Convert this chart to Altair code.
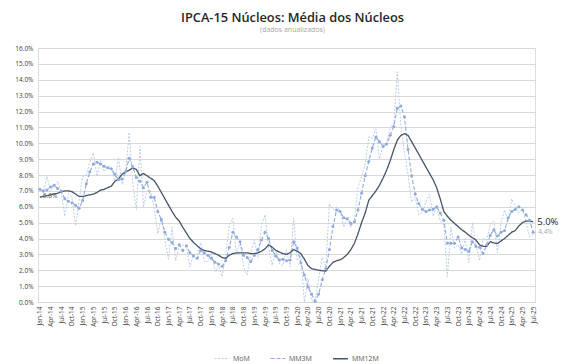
import altair as alt
import pandas as pd

MONTHS = ["Jan", "Feb", "Mar", "Apr", "May", "Jun", "Jul", "Aug", "Sep", "Oct", "Nov", "Dec"]
periods = [f"{m}-{y:02d}" for y in range(14, 26) for m in MONTHS][:139]

mom = [
    7.1, 6.9, 7.9, 7.0, 7.3, 7.6, 6.9, 5.4, 6.8, 6.6, 4.8, 6.4,          # 2014
    7.9, 8.0, 8.8, 9.4, 7.9, 8.9, 8.2, 8.6, 8.4, 7.6, 9.1, 7.4,          # 2015
    8.1, 10.7, 7.5, 5.8, 9.8, 6.0, 7.0, 7.0, 5.9, 4.3, 5.3, 3.9,         # 2016
    2.7, 4.7, 2.6, 3.5, 3.6, 3.5, 2.2, 3.0, 3.0, 3.75, 2.55, 2.55,       # 2017
    3.1, 1.9, 2.3, 1.6, 3.0, 4.8, 5.3, 3.0, 3.8, 2.2, 1.7, 3.1,          # 2018
    3.9, 2.8, 4.8, 5.5, 3.4, 2.3, 3.3, 2.4, 2.3, 3.3, 2.2, 5.3,          # 2019
    2.6, 2.9, 0.0, 1.5, 0.1, 0.0, 1.5, 2.8, 2.2, 6.2, 5.8, 6.0,          # 2020
    5.8, 4.7, 5.3, 4.7, 5.2, 7.2, 7.9, 8.7, 10.4, 10.3, 10.9, 9.0,       # 2021
    9.9, 10.0, 11.0, 11.2, 14.5, 11.0, 9.4, 8.0, 6.3, 6.6, 5.5, 5.6,     # 2022
    6.3, 6.8, 5.4, 6.0, 5.1, 4.9, 1.6, 4.7, 3.4, 3.6, 3.0, 4.0,          # 2023
    2.5, 5.0, 3.6, 2.6, 4.0, 3.9, 4.9, 5.1, 3.1, 5.0, 5.8, 5.1,          # 2024
    6.5, 6.0, 5.6, 5.9, 5.0, 4.1, 4.3,                                   # 2025
]

mm3m = [
    7.1, 7.0, 7.05, 7.25, 7.35, 7.15, 7.0, 6.5, 6.35, 6.25, 6.1, 5.9,
    6.4, 7.45, 8.2, 8.7, 8.8, 8.7, 8.55, 8.45, 8.4, 8.05, 7.7, 7.75,
    8.2, 9.05, 8.5, 7.85, 7.6, 7.2, 7.55, 6.6, 6.6, 5.7, 5.2, 4.4,
    3.95, 3.75, 3.35, 3.6, 3.25, 3.55, 3.1, 2.9, 2.75, 3.25, 3.1, 2.95,
    2.75, 2.5, 2.4, 2.25, 2.6, 3.45, 4.4, 4.1, 3.8, 2.95, 2.8, 2.55,
    2.95, 3.3, 3.9, 4.4, 4.0, 3.25, 2.9, 2.65, 2.7, 2.6, 2.65, 3.8,
    3.4, 2.45, 1.7, 0.95, 0.5, 0.05, 0.5, 1.4, 2.1, 3.3, 4.75, 5.8,
    5.7, 5.3, 5.25, 4.95, 5.05, 5.8, 6.85, 7.95, 8.85, 9.7, 10.4, 10.1,
    9.8, 9.95, 10.5, 11.05, 12.2, 12.35, 11.65, 9.6, 7.95, 6.8, 6.2, 5.85,
    5.7, 5.8, 5.85, 6.0, 5.6, 5.15, 3.7, 3.7, 3.7, 4.1, 3.4, 3.3,
    3.2, 3.8, 3.5, 3.45, 3.05, 3.6, 4.2, 4.55, 4.15, 4.4, 4.5, 5.3,
    5.7, 5.85, 6.0, 5.8, 5.5, 5.15, 4.4,
]

mm12m = [
    6.6, 6.65, 6.7, 6.75, 6.8, 6.85, 6.95, 7.0, 7.0, 6.95, 6.8, 6.65,
    6.65, 6.7, 6.75, 6.8, 6.9, 7.05, 7.1, 7.2, 7.3, 7.6, 7.75, 8.05,
    8.2, 8.3, 8.45, 8.35, 7.95, 8.1, 7.95, 7.8, 7.65, 7.3, 6.9, 6.5,
    6.1, 5.7, 5.35, 5.1, 4.7, 4.35, 4.0, 3.75, 3.55, 3.35, 3.25, 3.2,
    3.15, 3.05, 2.95, 2.8, 2.75, 2.95, 3.05, 3.1, 3.1, 3.1, 3.1, 3.05,
    3.05, 3.1, 3.2, 3.35, 3.6, 3.45, 3.25, 3.15, 3.05, 3.0, 3.1, 3.3,
    3.2, 3.05, 2.7, 2.3, 2.1, 2.05, 2.0, 1.97, 1.95, 2.25, 2.5, 2.6,
    2.65, 2.8, 3.0, 3.3, 3.7, 4.3, 5.0, 5.6, 6.4, 6.7, 7.0, 7.35,
    7.8, 8.3, 8.9, 9.6, 10.2, 10.5, 10.6, 10.5, 10.1, 9.7, 9.3, 8.9,
    8.5, 8.1, 7.7, 7.2, 6.5, 5.7, 5.4, 5.15, 4.95, 4.75, 4.55, 4.4,
    4.2, 4.05, 3.9, 3.6, 3.5, 3.5, 3.8, 3.72, 3.68, 3.85, 4.0, 4.2,
    4.4, 4.5, 4.8, 5.0, 5.1, 5.1, 5.05,
]

series_names = ["MoM", "MM3M", "MM12M"]
series_colors = ["#b4c7e7", "#8faadc", "#44546a"]
series_dash = [[2, 1.5], [4, 2], [1, 0]]
series_width = [0.9, 1.3, 1.1]

annotation_text = ["6.8%", "5.0%", "4.4%"]

y_ticks = [i / 100 for i in range(0, 17)]
x_ticks = periods[::3]

rows = []
for name, vals in zip(series_names, [mom, mm3m, mm12m]):
    for i, (p, v) in enumerate(zip(periods, vals)):
        rows.append({"period": p, "order": i, "serie": name, "value": v / 100})
df = pd.DataFrame(rows)

x_enc = alt.X(
    "period:N",
    sort=periods,
    scale=alt.Scale(type="point", padding=0.5),
    axis=alt.Axis(
        values=x_ticks, labelAngle=270, title=None, ticks=False, grid=False,
        domain=True, domainColor="#d9d9d9", domainWidth=1,
        labelFontSize=6.5, labelColor="#404040", labelPadding=4,
    ),
)
y_enc = alt.Y(
    "value:Q",
    scale=alt.Scale(domain=[0, 0.16], nice=False, zero=True),
    axis=alt.Axis(
        values=y_ticks, format=".1%", title=None, grid=True, gridColor="#d9d9d9",
        gridWidth=1, domain=False, ticks=False, labelFontSize=6.5,
        labelColor="#404040", labelPadding=5,
    ),
)

legend = alt.Legend(
    title=None, orient="none", legendX=176, legendY=302, direction="horizontal",
    symbolType="stroke", symbolSize=220, symbolStrokeWidth=1.2,
    labelFontSize=7, labelColor="#595959", columnPadding=18, labelOffset=3,
)

base = alt.Chart(df)

lines = base.mark_line().encode(
    x=x_enc,
    y=y_enc,
    color=alt.Color("serie:N", scale=alt.Scale(domain=series_names, range=series_colors), legend=legend),
    strokeDash=alt.StrokeDash("serie:N", scale=alt.Scale(domain=series_names, range=series_dash), legend=legend),
    strokeWidth=alt.StrokeWidth("serie:N", scale=alt.Scale(domain=series_names, range=series_width), legend=None),
    order="order:Q",
)

points = base.transform_filter(alt.datum.serie == "MM3M").mark_point(
    filled=True, size=9, color="#8faadc", opacity=1, shape="circle"
).encode(x=x_enc, y=y_enc)

ann = pd.DataFrame({
    "period": [periods[0], periods[-1], periods[-1]],
    "value": [mm12m[0] / 100, mm12m[-1] / 100, mm3m[-1] / 100],
    "text": annotation_text,
    "kind": ["start", "end12", "end3"],
})
abase = alt.Chart(ann)
t_start = abase.transform_filter(alt.datum.kind == "start").mark_text(
    align="left", baseline="middle", dx=3, dy=-1, fontSize=6.5, color="#595959"
).encode(x=x_enc, y=y_enc, text="text:N")
t_end12 = abase.transform_filter(alt.datum.kind == "end12").mark_text(
    align="left", baseline="middle", dx=4, dy=0, fontSize=9.5, fontWeight=500, color="#262626"
).encode(x=x_enc, y=y_enc, text="text:N")
t_end3 = abase.transform_filter(alt.datum.kind == "end3").mark_text(
    align="left", baseline="middle", dx=5, dy=0, fontSize=6.5, color="#a6a6a6"
).encode(x=x_enc, y=y_enc, text="text:N")

chart = alt.layer(lines, points, t_start, t_end12, t_end3).properties(
    width=497,
    height=254,
    autosize=alt.AutoSizeParams(type="none"),
    padding={"left": 30, "top": 40, "right": 41, "bottom": 62},
    title=alt.TitleParams(
        "IPCA-15 Núcleos: Média dos Núcleos",
        subtitle="(dados anualizados)",
        fontSize=12.8, fontWeight=600, font="Open Sans", color="#262626",
        subtitleFontSize=7, subtitleColor="#a6a6a6", subtitleFont="Open Sans",
        subtitlePadding=1, anchor="middle", offset=12, dx=6,
    ),
).configure_view(stroke=None).configure(font="Open Sans")

chart.save("out.html", embed_options={"renderer": "svg", "actions": False})
